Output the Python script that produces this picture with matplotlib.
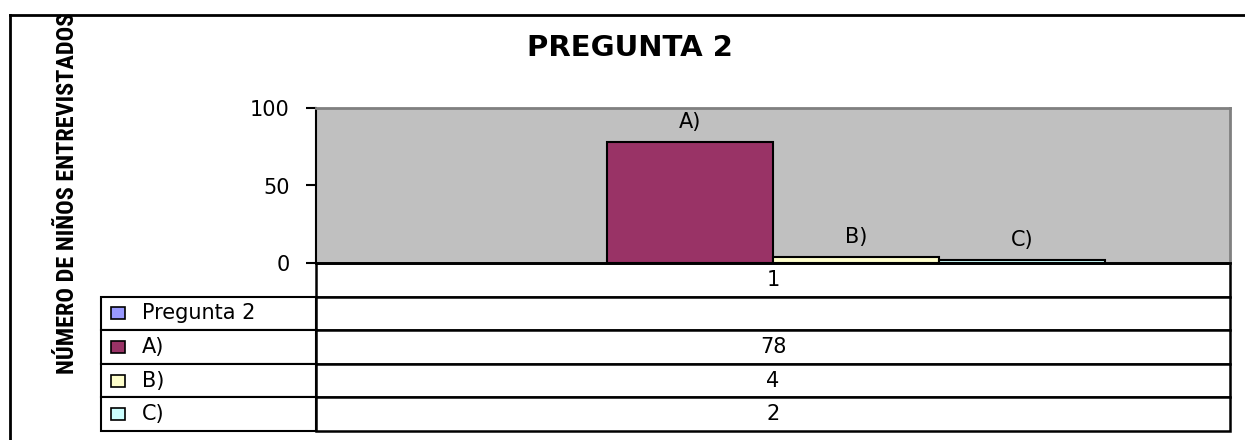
import matplotlib
matplotlib.use('Agg')
import matplotlib.pyplot as plt
from matplotlib.patches import Rectangle
from matplotlib.lines import Line2D
import numpy as np

# datos de la grafica
titulo = 'PREGUNTA 2'
ylabel = 'NÚMERO DE NIÑOS ENTREVISTADOS'
categoria = '1'
series = ['Pregunta 2', 'A)', 'B)', 'C)']
valores = [np.nan, 78, 4, 2]
colores = ['#9999FF', '#993366', '#FFFFCC', '#CCFFFF']
yticks = [0, 50, 100]

W, H = 1245, 440
fig = plt.figure(figsize=(W / 100, H / 100), dpi=100)

# area de trazado (pixeles de la referencia)
x0, x1, ytop, ybot = 316, 1230, 108, 263
ax = fig.add_axes([x0 / W, 1 - ybot / H, (x1 - x0) / W, (ybot - ytop) / H])
ax.set_facecolor('#C0C0C0')

n = len(series)
ancho = 1 / (n + 1.5)  # gap width 150% tipo Excel
for i, (s, v, c) in enumerate(zip(series, valores, colores)):
	if np.isnan(v):
		continue
	x = (i - (n - 1) / 2) * ancho
	b = ax.bar(x, v, width=ancho, color=c, edgecolor='black', linewidth=1.5, zorder=3)
	ax.bar_label(b, labels=[s], padding=7, fontsize=15)

ax.set_xlim(-0.5, 0.5)
ax.set_ylim(0, 100)
ax.set_yticks(yticks)
ax.set_xticks([])
ax.tick_params(axis='y', direction='out', length=7, width=1.5, pad=12, labelsize=15)
for lado in ['top', 'right']:
	ax.spines[lado].set_color('#808080')
	ax.spines[lado].set_linewidth(2)
ax.spines['left'].set_linewidth(1.5)
ax.spines['bottom'].set_linewidth(2)

# tabla de datos
tx0, tybot = 101, 431
wlab = x0 - tx0
wtot = x1 - tx0
htot = tybot - ybot
celdas = [[s, '' if np.isnan(v) else '%d' % v] for s, v in zip(series, valores)]
tabla = ax.table(cellText=celdas, colLabels=['', categoria],
                 colWidths=[wlab / wtot, (x1 - x0) / wtot],
                 bbox=[-wlab / (x1 - x0), -htot / (ybot - ytop), wtot / (x1 - x0), htot / (ybot - ytop)],
                 cellLoc='center')
tabla.auto_set_font_size(False)
tabla.set_fontsize(15)
for (r, c), cell in tabla.get_celld().items():
	cell.set_linewidth(1.5)
	if r == 0 and c == 0:
		cell.visible_edges = 'open'
	elif c == 0:
		cell._loc = 'left'
		cell.PAD = 41 / wlab
		cell.get_text().set_ha('left')
	elif c == 1:
		cell.set_linewidth(1.8)

# claves de color en la tabla
hfila = htot / 5 / (ybot - ytop)
for i, c in enumerate(colores):
	yc = -(i + 1.5) * hfila
	hk = 12 / (ybot - ytop)
	ax.add_patch(Rectangle(((111 - x0) / (x1 - x0), yc - hk / 2), 14 / (x1 - x0), hk,
	                       facecolor=c, edgecolor='black', linewidth=1.2,
	                       transform=ax.transAxes, clip_on=False, zorder=5))

fig.text(630 / W, 1 - 48 / H, titulo, ha='center', va='center', fontsize=21, fontweight='bold')
fig.text(68 / W, 1 - 193 / H, ylabel, rotation=90, ha='center', va='center',
         fontsize=17.5, fontweight='bold', family=['Roboto Condensed', 'Roboto', 'DejaVu Sans'])

# marco exterior
fig.add_artist(Line2D([10 / W, 1], [1 - 15 / H, 1 - 15 / H], color='black', lw=2, transform=fig.transFigure))
fig.add_artist(Line2D([10 / W, 10 / W], [0, 1 - 15 / H], color='black', lw=2, transform=fig.transFigure))

fig.savefig('out.png', dpi=100)
